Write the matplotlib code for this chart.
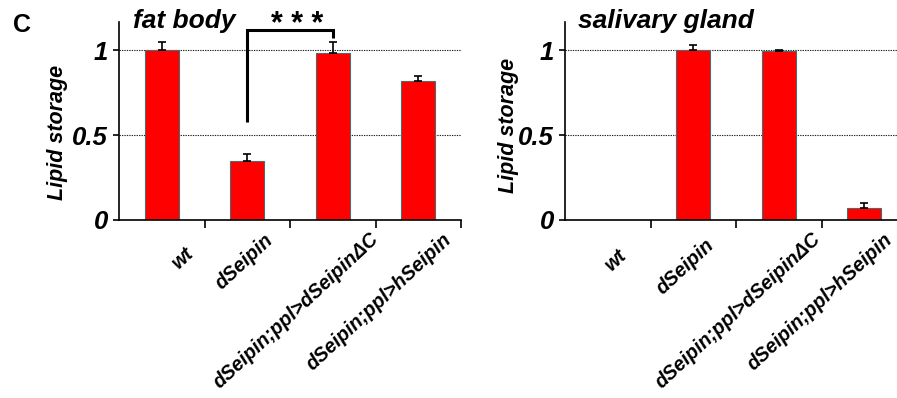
import matplotlib
matplotlib.use("Agg")
import matplotlib.pyplot as plt
import numpy as np

categories = ["wt", "dSeipin", "dSeipin;ppl>dSeipinΔC", "dSeipin;ppl>hSeipin"]
fat_body = [1.00, 0.345, 0.985, 0.818]
fat_body_err = [0.045, 0.045, 0.06, 0.03]
salivary = [0.0, 1.00, 0.995, 0.068]
salivary_err = [0.0, 0.03, 0.005, 0.03]
yticks = [0, 0.5, 1]
ytick_labels = ["0", "0.5", "1"]

plt.rcParams['font.family'] = ['Liberation Sans', 'DejaVu Sans']

W, H = 897, 398
fig = plt.figure(figsize=(W / 100, H / 100), dpi=100)

def px_axes(x0, x1, ytop, ybot):
    return fig.add_axes([x0 / W, 1 - ybot / H, (x1 - x0) / W, (ybot - ytop) / H])

ax1 = px_axes(119, 461, 22, 220)
ax2 = px_axes(565, 907, 22, 220)

# label anchor nudges in pixels (layout only)
left_nudge = [(22, -24), (17, -10), (36, -9), (24, -10)]
right_nudge = [(9, -26), (12, -15), (32, -9), (19, -10)]

def draw(ax, vals, errs, title, title_x, ylabel_xy, nudges):
    x = np.arange(len(categories))
    vals = np.asarray(vals, dtype=float)
    errs = np.asarray(errs, dtype=float)
    for y in [0.5, 1.0]:
        ax.axhline(y, color='#222222', lw=0.8, ls=(0, (1.2, 1.0)), zorder=0)
    m = vals > 0
    ax.bar(x[m], vals[m], width=0.4, color='#ff0000', edgecolor='#4d6b6b', linewidth=0.8, zorder=2)
    ax.errorbar(x[m], vals[m], yerr=[np.zeros(m.sum()), errs[m]], fmt='none', ecolor='black',
                elinewidth=1.2, capsize=3, capthick=1.2, zorder=3)
    ax.set_xlim(-0.5, 3.5)
    ax.set_ylim(0, 1.165)
    ax.spines['top'].set_visible(False)
    ax.spines['right'].set_visible(False)
    ax.spines['left'].set_linewidth(1.2)
    ax.spines['bottom'].set_linewidth(1.2)
    ax.set_yticks(yticks)
    ax.set_yticklabels(ytick_labels, fontsize=18.5, fontweight='bold', fontstyle='italic')
    ax.tick_params(axis='y', length=4, width=1.2, pad=4)
    ax.set_xticks(x)
    ax.set_xticklabels([])
    ax.tick_params(axis='x', which='major', length=0)
    ax.set_xticks(np.arange(len(categories)) + 0.5, minor=True)
    ax.tick_params(axis='x', which='minor', length=6, width=1.2)
    for i, c in enumerate(categories):
        dx, dy = nudges[i]
        ax.annotate(c, xy=(i, 0), xycoords=('data', 'axes fraction'),
                    xytext=(dx, dy), textcoords='offset pixels',
                    rotation=43, ha='right', va='top', rotation_mode='anchor',
                    fontsize=14.2, fontweight='bold', fontstyle='italic')
    fig.text(ylabel_xy[0] / W, 1 - ylabel_xy[1] / H, "Lipid storage", rotation=90,
             ha='center', va='center', fontsize=15.5, fontweight='bold', fontstyle='italic')
    fig.text(title_x / W, 1 - 28 / H, title, fontsize=19, fontweight='bold', fontstyle='italic',
             ha='left', va='baseline')

draw(ax1, fat_body, fat_body_err, "fat body", 133, (57, 132), left_nudge)
draw(ax2, salivary, salivary_err, "salivary gland", 578, (508, 125), right_nudge)

# significance bracket
ax1.plot([1, 1, 2, 2], [0.576, 1.118, 1.118, 1.07], color='black', lw=2.2,
         clip_on=False, zorder=4, solid_capstyle='butt', solid_joinstyle='miter')
ax1.text(1.585, 1.10, "* * *", ha='center', va='baseline', fontsize=22, fontweight='bold')

fig.text(13 / W, 1 - 32 / H, "C", fontsize=18, fontweight='bold', ha='left', va='baseline')

fig.savefig("out.png", dpi=100)
